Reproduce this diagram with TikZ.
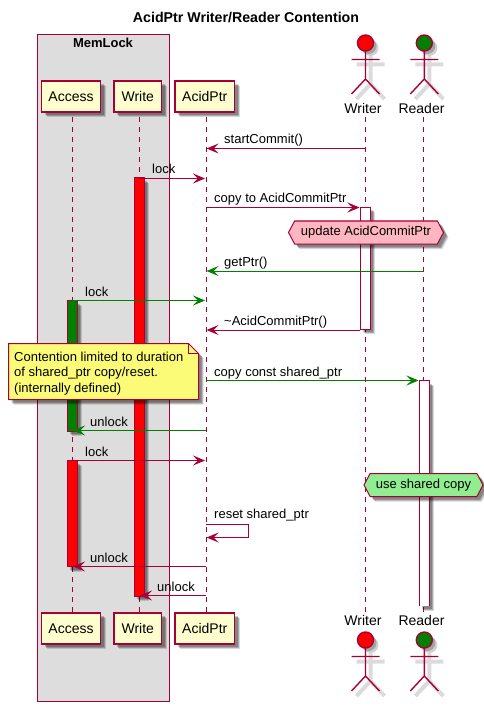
\documentclass[tikz,border=0pt]{standalone}
\usepackage{fontspec}
\setmainfont{Liberation Sans}
\usetikzlibrary{arrows.meta,shadows,shapes.symbols}
\definecolor{crim}{HTML}{A80036}
\definecolor{partfill}{HTML}{FEFECE}
\definecolor{boxfill}{HTML}{DDDDDD}
\definecolor{notefill}{HTML}{FBFB77}
\definecolor{hexpink}{HTML}{FFB6C1}
\definecolor{hexgreen}{HTML}{90EE90}
\definecolor{grn}{HTML}{008000}
\tikzset{
  softshadow/.style={
    general shadow={shadow xshift=3pt,shadow yshift=-3pt,fill=black,fill opacity=.22,draw=none},
    general shadow={shadow xshift=4pt,shadow yshift=-4pt,fill=black,fill opacity=.22,draw=none},
    general shadow={shadow xshift=5pt,shadow yshift=-5pt,fill=black,fill opacity=.15,draw=none}},
  part/.style={draw=crim,line width=1.2pt,fill=partfill,font=\fontsize{14}{16}\selectfont,inner sep=0pt,outer sep=0pt,minimum height=31pt,softshadow},
  life/.style={draw=crim,line width=1pt,dash pattern=on 5pt off 5pt},
  actv/.style={draw=crim,line width=1pt,inner sep=0pt,outer sep=0pt,minimum width=10pt,softshadow},
  actvopen/.style={fill=white,inner sep=0pt,outer sep=0pt,minimum width=10pt,softshadow},
  actvside/.style={draw=crim,line width=1pt},
  msgline/.style={line width=1pt,-{Stealth[length=12pt,width=10pt,inset=5pt]}},
  msgtext/.style={font=\fontsize{13}{15}\selectfont,anchor=base west,inner sep=0pt},
  hexnode/.style={shape=signal,signal to=west and east,signal pointer angle=124,draw=crim,line width=1pt,font=\fontsize{13}{15}\selectfont,inner sep=0pt,outer sep=0pt,minimum height=23pt,softshadow},
  actorlabel/.style={font=\fontsize{14}{16}\selectfont,inner sep=0pt},
  stick/.style={draw=crim,line width=1.4pt},
  stickshadow/.style={draw=black,opacity=.14,line width=4pt,shift={(5,5)}},
  headnode/.style={circle,draw=crim,line width=1.4pt,minimum size=16pt,inner sep=0pt,outer sep=0pt,
    general shadow={shadow xshift=3pt,shadow yshift=-3pt,fill=black,fill opacity=.22,draw=none},
    general shadow={shadow xshift=5pt,shadow yshift=-5pt,fill=black,fill opacity=.18,draw=none}}
}
\newcommand{\actorfig}[4]{% name, x, head y, colour
  \begin{scope}[shift={(#2,#3)}]
    \path[stickshadow] (0,8)--(0,36) (-14,16.5)--(14,16.5) (-14,51)--(0,36)--(14,51);
    \node[headnode,fill=#4] (#1) at (0,0) {};
    \draw[stick] (#1.south)--(0,36) (-14,16.5)--(14,16.5) (-14,51)--(0,36)--(14,51);
  \end{scope}}
\begin{document}
\begin{tikzpicture}[x=1pt,y=-1pt]
\useasboundingbox (0,0) rectangle (483,711);
% title and box
\node[font=\bfseries\fontsize{14.2}{16}\selectfont,inner sep=0pt] (title) at (246,18) {AcidPtr Writer/Reader Contention};
\node[draw=crim,line width=1pt,fill=boxfill,minimum width=132pt,minimum height=667pt,inner sep=0pt,outer sep=0pt] (memlock) at (103.5,368) {};
\node[font=\bfseries\fontsize{13}{15}\selectfont,inner sep=0pt] (memtitle) at (103,42.5) {MemLock};
% participants
\node[part,minimum width=59pt] (accessT) at (71,96.5) {Access};
\node[part,minimum width=47.5pt] (writeT) at (137.75,96.5) {Write};
\node[part,minimum width=59.5pt] (acidT) at (204.75,96.5) {AcidPtr};
\node[part,minimum width=59pt] (accessB) at (71,628.5) {Access};
\node[part,minimum width=47.5pt] (writeB) at (137.75,628.5) {Write};
\node[part,minimum width=59.5pt] (acidB) at (204.75,628.5) {AcidPtr};
% actors
\actorfig{writerH}{365.5}{43}{red}
\actorfig{readerH}{424.3}{43}{grn}
\node[actorlabel] (writerT) at (363,108.5) {Writer};
\node[actorlabel] (readerT) at (421.5,108.5) {Reader};
\node[actorlabel] (writerB) at (363,620.5) {Writer};
\node[actorlabel] (readerB) at (421.5,620.5) {Reader};
\actorfig{writerF}{365.5}{640}{red}
\actorfig{readerF}{424.3}{640}{grn}
% lifelines
\coordinate (la1) at (72.3,117); \coordinate (la2) at (72.3,613);
\coordinate (lw1) at (139.3,117); \coordinate (lw2) at (139.3,613);
\coordinate (lp1) at (206.3,117); \coordinate (lp2) at (206.3,613);
\coordinate (lr1) at (365.4,117); \coordinate (lr2) at (365.4,612);
\coordinate (ld1) at (423,117); \coordinate (ld2) at (423,612);
\draw[life] (la1)--(la2);
\draw[life] (lw1)--(lw2);
\draw[life] (lp1)--(lp2);
\draw[life] (lr1)--(lr2);
\draw[life] (ld1)--(ld2);
% activations
\node[actv,fill=red,minimum height=418pt] (actW) at (139.3,387) {};
\node[actv,fill=grn,minimum height=130.5pt] (actA1) at (72.3,365.75) {};
\node[actv,fill=red,minimum height=106pt] (actA2) at (72.3,513.5) {};
\node[actv,fill=white,minimum height=121.5pt] (actR) at (365.4,268.25) {};
\node[actvopen,minimum height=225.5pt] (actD) at (424.3,493.25) {};
\draw[actvside] (actD.south west)--(actD.north west)--(actD.north east)--(actD.south east);
% hexagons
\node[hexnode,fill=hexpink,minimum width=155pt] (hex1) at (366,232.5) {update AcidCommitPtr};
\node[hexnode,fill=hexgreen,minimum width=119pt] (hex2) at (423.5,485) {use shared copy};
% message ends
\coordinate (a1) at (365.4,148.5); \coordinate (b1) at (206.6,148.5);
\coordinate (a2) at (139.3,178.5); \coordinate (b2) at (205,178.5);
\coordinate (a3) at (206.3,207.5); \coordinate (b3) at (359.5,207.5);
\coordinate (a4) at (423,271); \coordinate (b4) at (206.6,271);
\coordinate (a5) at (72.3,300.5); \coordinate (b5) at (205,300.5);
\coordinate (a6) at (360.4,330); \coordinate (b6) at (206.6,330);
\coordinate (a7) at (206.3,380.5); \coordinate (b7) at (418.5,380.5);
\coordinate (a8) at (206.3,430.5); \coordinate (b8) at (73,430.5);
\coordinate (a9) at (72.3,460.5); \coordinate (b9) at (205,460.5);
\coordinate (a10) at (206.3,524.5); \coordinate (c10) at (248.5,524.5); \coordinate (d10) at (248.5,537.5); \coordinate (b10) at (206.6,537.5);
\coordinate (a11) at (206.3,566.5); \coordinate (b11) at (73,566.5);
\coordinate (a12) at (206.3,595.5); \coordinate (b12) at (140,595.5);
% messages
\draw[msgline,crim] (a1)--(b1);
\draw[msgline,crim] (a2)--(b2);
\draw[msgline,crim] (a3)--(b3);
\draw[msgline,grn] (a4)--(b4);
\draw[msgline,grn] (a5)--(b5);
\draw[msgline,crim] (a6)--(b6);
\draw[msgline,grn] (a7)--(b7);
\draw[msgline,grn] (a8)--(b8);
\draw[msgline,crim] (a9)--(b9);
\draw[msgline,crim] (a10)--(c10)--(d10)--(b10);
\draw[msgline,crim] (a11)--(b11);
\draw[msgline,crim] (a12)--(b12);
% message labels
\node[msgtext] (t1) at (224,144) {startCommit()};
\node[msgtext] (t2) at (152,173.5) {lock};
\node[msgtext] (t3) at (214,203) {copy to AcidCommitPtr};
\node[msgtext] (t4) at (224,266.5) {getPtr()};
\node[msgtext] (t5) at (85,296) {lock};
\node[msgtext] (t6) at (224,325.5) {\textasciitilde AcidCommitPtr()};
\node[msgtext] (t7) at (214,376) {copy const shared\_ptr};
\node[msgtext] (t8) at (90,426) {unlock};
\node[msgtext] (t9) at (85,456) {lock};
\node[msgtext] (t10) at (214,518) {reset shared\_ptr};
\node[msgtext] (t11) at (90,562) {unlock};
\node[msgtext] (t12) at (157,591) {unlock};
% note
\coordinate (n1) at (8.5,343.5); \coordinate (n2) at (188.5,343.5); \coordinate (n3) at (198.5,353.5);
\coordinate (n4) at (198.5,399.5); \coordinate (n5) at (8.5,399.5); \coordinate (n6) at (188.5,353.5);
\fill[black,opacity=.22] ([shift={(3,3)}]n1) -- ([shift={(3,3)}]n2) -- ([shift={(3,3)}]n3) -- ([shift={(3,3)}]n4) -- ([shift={(3,3)}]n5) -- cycle;
\fill[black,opacity=.22] ([shift={(4,4)}]n1) -- ([shift={(4,4)}]n2) -- ([shift={(4,4)}]n3) -- ([shift={(4,4)}]n4) -- ([shift={(4,4)}]n5) -- cycle;
\fill[black,opacity=.15] ([shift={(5,5)}]n1) -- ([shift={(5,5)}]n2) -- ([shift={(5,5)}]n3) -- ([shift={(5,5)}]n4) -- ([shift={(5,5)}]n5) -- cycle;
\draw[crim,line width=1pt,fill=notefill] (n1)--(n2)--(n3)--(n4)--(n5)--cycle;
\draw[crim,line width=1pt] (n2)--(n6)--(n3);
\node[msgtext] (note1) at (14,361) {Contention limited to duration};
\node[msgtext] (note2) at (14,376.5) {of shared\_ptr copy/reset.};
\node[msgtext] (note3) at (14,392) {(internally defined)};
\end{tikzpicture}
\end{document}
